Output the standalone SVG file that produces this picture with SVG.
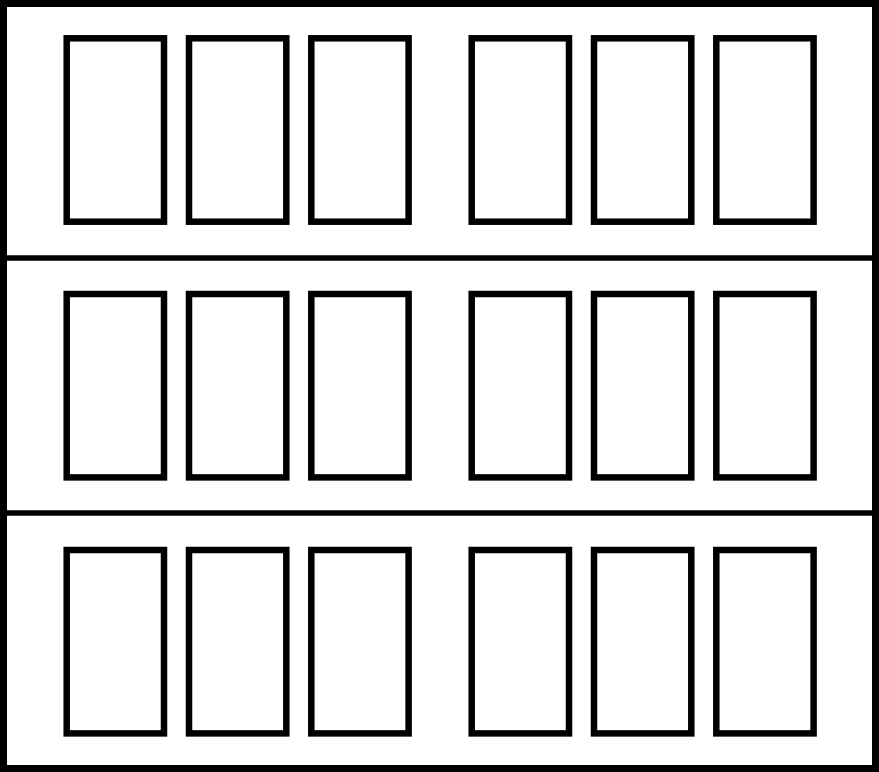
<svg xmlns="http://www.w3.org/2000/svg" width="879" height="772" viewBox="0 0 879 772">
<style>
.frame{fill:#fff;stroke:#000;stroke-width:7}
.div{stroke:#000;stroke-width:5.5}
.p{fill:#fff;stroke:#000;stroke-width:6.5}
</style>
<defs><rect id="pn" class="p" width="97.3" height="183.4"/></defs>
<rect id="door" class="frame" x="3.5" y="3.5" width="872" height="765"/>
<g id="dividers">
<line class="div" x1="7" y1="258" x2="872" y2="258"/>
<line class="div" x1="7" y1="513" x2="872" y2="513"/>
</g>
<g id="row1" transform="translate(0,38.3)">
<use href="#pn" x="66.7"/><use href="#pn" x="189"/><use href="#pn" x="311.3"/>
<use href="#pn" x="471.7"/><use href="#pn" x="594"/><use href="#pn" x="716.3"/>
</g>
<g id="row2" transform="translate(0,294)">
<use href="#pn" x="66.7"/><use href="#pn" x="189"/><use href="#pn" x="311.3"/>
<use href="#pn" x="471.7"/><use href="#pn" x="594"/><use href="#pn" x="716.3"/>
</g>
<g id="row3" transform="translate(0,550)">
<use href="#pn" x="66.7"/><use href="#pn" x="189"/><use href="#pn" x="311.3"/>
<use href="#pn" x="471.7"/><use href="#pn" x="594"/><use href="#pn" x="716.3"/>
</g>
</svg>
